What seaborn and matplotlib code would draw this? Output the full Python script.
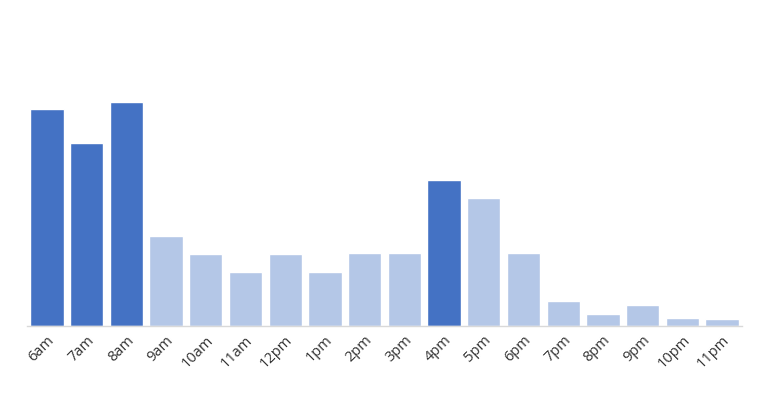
import pandas as pd
import matplotlib.pyplot as plt
import seaborn as sns

# %% Data
hours = ['6am', '7am', '8am', '9am', '10am', '11am', '12pm', '1pm', '2pm', '3pm',
         '4pm', '5pm', '6pm', '7pm', '8pm', '9pm', '10pm', '11pm']
counts = [217, 183, 224, 90, 72, 54, 72, 54, 73, 73, 146, 128, 73, 25, 12, 21, 8, 7]
peak = ['6am', '7am', '8am', '4pm']

df = pd.DataFrame({'hour': hours, 'count': counts})
colors = {h: ('#4472C4' if h in peak else '#B4C7E7') for h in hours}

# %% Plot
sns.set_style('white')
plt.rcParams['font.family'] = ['Open Sans', 'DejaVu Sans']

fig = plt.figure(figsize=(7.65, 4.0), dpi=100)
ax = fig.add_axes([27 / 765, 74 / 400, 715 / 765, 300 / 400])

sns.barplot(data=df, x='hour', y='count', hue='hour', palette=colors,
            order=hours, width=0.84, legend=False, saturation=1, ax=ax)

ax.set_xlim(-0.5, len(hours) - 0.5)
ax.set_ylim(0, 300)
ax.set_xlabel('')
ax.set_ylabel('')
ax.set_yticks([])
for side in ['top', 'left', 'right']:
    ax.spines[side].set_visible(False)
ax.spines['bottom'].set_color('#D9D9D9')
ax.spines['bottom'].set_linewidth(1)
ax.tick_params(axis='x', length=0, pad=5)
plt.setp(ax.get_xticklabels(), rotation=45, ha='right', rotation_mode='anchor',
         fontsize=10.5, color='#333333')

fig.savefig('out.png', dpi=100)
